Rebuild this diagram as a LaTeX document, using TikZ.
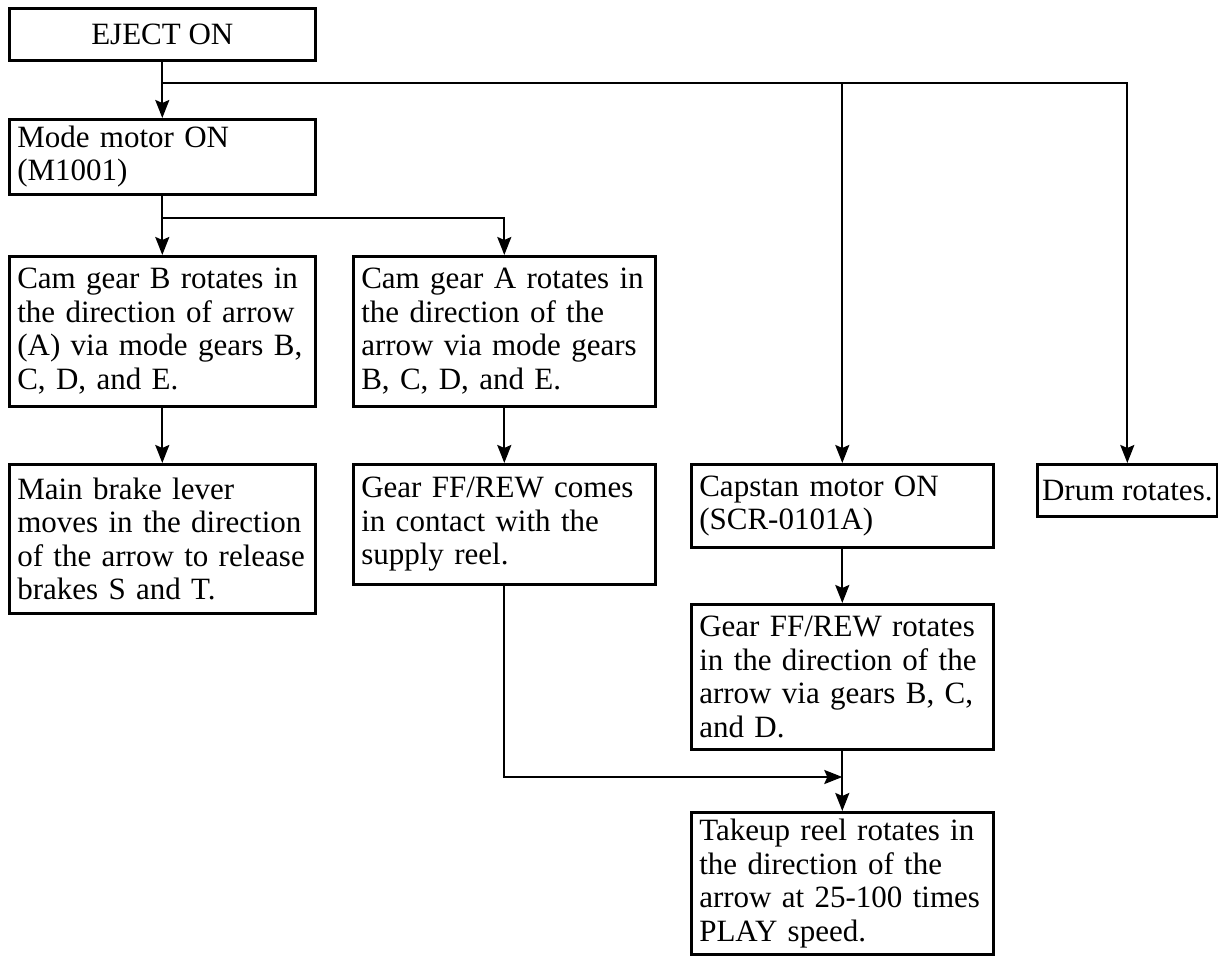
\documentclass[tikz,border=0pt]{standalone}
\usepackage{fontspec}
\setmainfont{Liberation Serif}
\usetikzlibrary{arrows.meta}
\newcommand\diafont{\fontsize{15.5}{16.75}\selectfont}
\begin{document}
\begin{tikzpicture}[x=0.5pt,y=-0.5pt,
  box/.style={draw, line width=1.3pt, rectangle, anchor=north west,
    inner xsep=4pt, inner ysep=1pt, align=left, font=\diafont},
  wideA/.style={text width=145pt},
  wideB/.style={text width=143pt},
  arr/.style={line width=1.1pt, -{Stealth[length=9pt,width=7pt,inset=1.5pt]}},
  ln/.style={line width=1.1pt}]
\useasboundingbox (0,0) rectangle (1218,956);
\node[box, align=center, minimum width=153pt, minimum height=26pt] (eject) at (8,7) {EJECT ON};
\node[box, wideA, minimum height=37.5pt] (mode) at (8,118) {Mode motor ON\\(M1001)};
\node[box, wideA, minimum height=75pt] (camB) at (8,255) {Cam gear B rotates in\\the direction of arrow\\(A) via mode gears B,\\C, D, and E.};
\node[box, wideB, minimum height=75pt] (camA) at (352,255) {Cam gear A rotates in\\the direction of the\\arrow via mode gears\\B, C, D, and E.};
\node[box, wideA, minimum height=74.5pt] (brake) at (8,463) {Main brake lever\\moves in the direction\\of the arrow to release\\brakes S and T.};
\node[box, wideB, minimum height=60pt] (comes) at (352,463) {Gear FF/REW comes\\in contact with the\\supply reel.};
\node[box, wideB, minimum height=41.5pt] (capstan) at (690,463) {Capstan motor ON\\(SCR-0101A)};
\node[box, align=center, inner xsep=2pt, minimum width=90pt, minimum height=26pt] (drum) at (1036,463) {Drum rotates.};
\node[box, wideB, minimum height=72.5pt] (rotates) at (690,603) {Gear FF/REW rotates\\in the direction of the\\arrow via gears B, C,\\and D.};
\node[box, wideB, minimum height=71pt] (takeup) at (690,811) {Takeup reel rotates in\\the direction of the\\arrow at 25-100 times\\PLAY speed.};
\coordinate (j1) at (0,83);
\coordinate (j2) at (0,218);
\coordinate (j3) at (0,777);
\draw[arr] (eject.south) -- (mode.north);
\draw[arr] (eject.south |- j1) -| (drum.north);
\draw[arr] (capstan.north |- j1) -- (capstan.north);
\draw[arr] (mode.south) -- (camB.north);
\draw[arr] (mode.south |- j2) -| (camA.north);
\draw[arr] (camB.south) -- (brake.north);
\draw[arr] (camA.south) -- (comes.north);
\draw[arr] (capstan.south) -- (rotates.north);
\draw[arr] (comes.south) |- (rotates.south |- j3);
\draw[arr] (rotates.south) -- (takeup.north);
\end{tikzpicture}
\end{document}
